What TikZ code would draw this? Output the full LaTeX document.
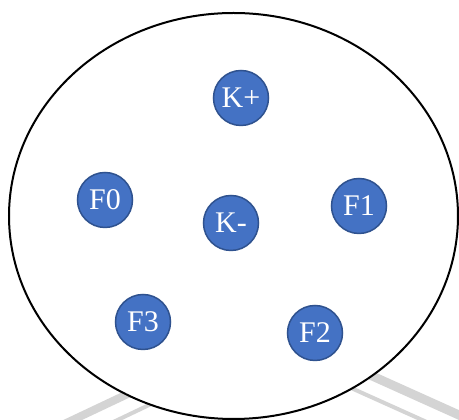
\documentclass[tikz,border=0pt]{standalone}
\usepackage{fontspec}
\setmainfont{Liberation Serif}
\definecolor{ionfill}{HTML}{4472C4}
\definecolor{iondraw}{HTML}{2F528F}
\definecolor{shade}{HTML}{D4D4D4}
\begin{document}
\begin{tikzpicture}[x=1pt,y=1pt,line width=2pt,
    font=\fontsize{30}{32}\selectfont,inner sep=0pt,
    ion/.style={circle,minimum size=55pt,fill=ionfill,draw=iondraw,
      line width=1.5pt,text=white},
    stripe/.style={draw=shade,line cap=butt}]
    \path[use as bounding box] (0,0) rectangle (459,420);
    % faint stripes behind the cell
    \draw[stripe,line width=8pt] (60,-6) -- (170,46);
    \draw[stripe,line width=4pt] (105,-6) -- (170,25);
    \draw[stripe,line width=9pt] (330,63) -- (470,0);
    \draw[stripe,line width=4pt] (320,46) -- (440,-8);
    % cell
    \draw[fill=white] (233.5,204) ellipse (224.5 and 203);
    \node[ion] (kplus) at (241,322) {K+};
    \node[ion] (kminus) at (231,197) {K-};
    \node[ion] (f0) at (105,220) {F0};
    \node[ion] (f1) at (359,214) {F1};
    \node[ion] (f2) at (315,87) {F2};
    \node[ion] (f3) at (143,98) {F3};
  \end{tikzpicture}
\end{document}
